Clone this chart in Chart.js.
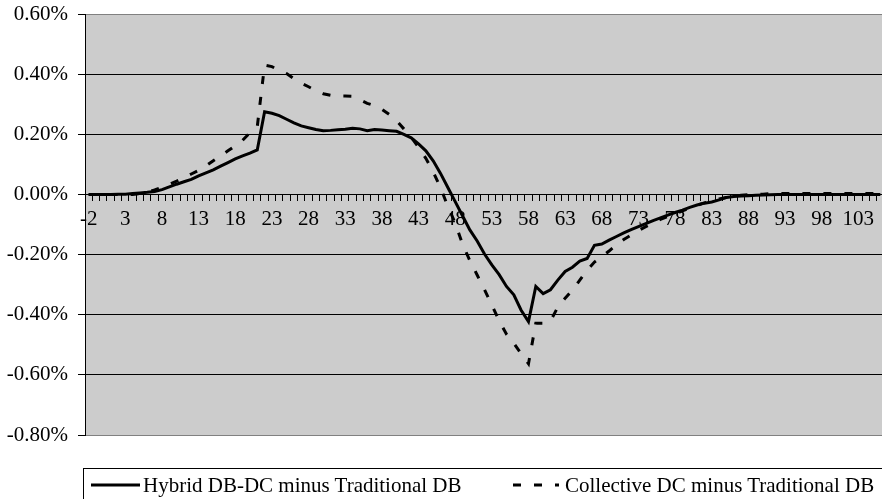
<!DOCTYPE html>
<html>
<head>
<meta charset="utf-8">
<script src="https://cdn.jsdelivr.net/npm/chart.js@4.4.0/dist/chart.umd.min.js"></script>
<style>
  html, body { margin: 0; padding: 0; background: #fff; overflow: hidden; }
  #wrap { position: relative; width: 900px; height: 499px; }
  #legend {
    position: absolute; left: 83px; top: 468px; width: 830px; height: 44px;
    border: 1px solid #000; font-family: 'Liberation Serif', 'Times New Roman', serif;
    font-size: 21px; line-height: 24px; color: #000;
  }
  .item { position: absolute; top: 4px; white-space: nowrap; }
  .item svg { position: absolute; top: 0; }
</style>
</head>
<body>
<div id="wrap">
  <canvas id="chart" width="900" height="499"></canvas>
  <div id="legend"></div>
</div>
<script>
// category axis: -2 .. 106
const categories = [
  -2, -1, 0, 1, 2, 3, 4, 5, 6, 7, 8, 9, 10, 11, 12, 13, 14, 15, 16, 17,
  18, 19, 20, 21, 22, 23, 24, 25, 26, 27, 28, 29, 30, 31, 32, 33, 34, 35, 36, 37,
  38, 39, 40, 41, 42, 43, 44, 45, 46, 47, 48, 49, 50, 51, 52, 53, 54, 55, 56, 57,
  58, 59, 60, 61, 62, 63, 64, 65, 66, 67, 68, 69, 70, 71, 72, 73, 74, 75, 76, 77,
  78, 79, 80, 81, 82, 83, 84, 85, 86, 87, 88, 89, 90, 91, 92, 93, 94, 95, 96, 97,
  98, 99, 100, 101, 102, 103, 104, 105, 106
];

// values in percent
const hybridMinusDB = [
  0, 0, 0, 0, 0.001, 0.001, 0.003, 0.005, 0.007, 0.010,
  0.016, 0.025, 0.034, 0.042, 0.050, 0.062, 0.072, 0.082, 0.094, 0.106,
  0.118, 0.128, 0.137, 0.148, 0.275, 0.270, 0.262, 0.250, 0.238, 0.228,
  0.222, 0.216, 0.212, 0.213, 0.215, 0.217, 0.220, 0.218, 0.212, 0.216,
  0.214, 0.212, 0.210, 0.200, 0.188, 0.168, 0.145, 0.112, 0.070, 0.023,
  -0.024, -0.071, -0.118, -0.155, -0.198, -0.234, -0.267, -0.306, -0.334, -0.385,
  -0.423, -0.306, -0.330, -0.317, -0.285, -0.256, -0.242, -0.222, -0.213, -0.169,
  -0.165, -0.152, -0.140, -0.128, -0.117, -0.107, -0.097, -0.087, -0.078, -0.069,
  -0.060, -0.052, -0.043, -0.035, -0.029, -0.025, -0.018, -0.010, -0.007, -0.005,
  -0.004, -0.003, -0.002, -0.001, 0, 0, 0, 0, 0, 0,
  0, 0, 0, 0, 0, 0, 0, 0, 0
];

const collectiveMinusDB = [
  0, 0, 0, 0, 0, 0, 0, 0.003, 0.008, 0.015,
  0.024, 0.034, 0.044, 0.055, 0.068, 0.080, 0.095, 0.112, 0.128, 0.145,
  0.162, 0.180, 0.205, 0.225, 0.430, 0.425, 0.413, 0.402, 0.385, 0.370,
  0.358, 0.345, 0.335, 0.330, 0.327, 0.327, 0.326, 0.315, 0.303, 0.295,
  0.283, 0.266, 0.245, 0.218, 0.190, 0.157, 0.120, 0.075, 0.023, -0.040,
  -0.095, -0.165, -0.220, -0.268, -0.317, -0.368, -0.420, -0.465, -0.495, -0.530,
  -0.563, -0.428, -0.428, -0.421, -0.375, -0.345, -0.318, -0.285, -0.252, -0.225,
  -0.207, -0.188, -0.168, -0.150, -0.135, -0.120, -0.107, -0.094, -0.083, -0.073,
  -0.064, -0.055, -0.045, -0.036, -0.028, -0.022, -0.015, -0.010, -0.006, -0.003,
  -0.001, 0, 0.001, 0.003, 0.003, 0.003, 0.003, 0.003, 0.003, 0.003,
  0.003, 0.003, 0.003, 0.003, 0.003, 0.003, 0.003, 0.003, 0.003
];

const yTicks = [0.6, 0.4, 0.2, 0, -0.2, -0.4, -0.6, -0.8];
const seriesNames = ['Hybrid DB-DC minus Traditional DB', 'Collective DC minus Traditional DB'];

const SERIF = "'Liberation Serif', 'Times New Roman', serif";
Chart.defaults.font.family = SERIF;
Chart.defaults.font.size = 21;
Chart.defaults.color = '#000';

const plotBg = {
  id: 'plotBg',
  beforeDraw(chart) {
    const a = chart.chartArea;
    const ctx = chart.ctx;
    ctx.save();
    ctx.fillStyle = '#cccccc';
    ctx.fillRect(a.left, a.top, a.right - a.left, a.bottom - a.top);
    ctx.restore();
  }
};

new Chart(document.getElementById('chart'), {
  type: 'line',
  data: {
    labels: categories,
    datasets: [
      {
        label: seriesNames[0],
        data: hybridMinusDB,
        borderColor: '#000',
        borderWidth: 3,
        pointRadius: 0,
        tension: 0,
        fill: false
      },
      {
        label: seriesNames[1],
        data: collectiveMinusDB,
        borderColor: '#000',
        borderWidth: 3,
        borderDash: [8, 13],
        pointRadius: 0,
        tension: 0,
        fill: false
      }
    ]
  },
  options: {
    responsive: false,
    animation: false,
    layout: { padding: { left: 0, top: 14, right: 16, bottom: 64 } },
    plugins: {
      legend: { display: false },
      tooltip: { enabled: false }
    },
    scales: {
      x: {
        type: 'category',
        position: { y: 0 },
        offset: true,
        grid: {
          offset: true,
          drawOnChartArea: false,
          drawTicks: true,
          tickLength: 6,
          tickColor: '#000'
        },
        border: { display: true, color: '#000', width: 1 },
        ticks: {
          autoSkip: false,
          maxRotation: 0,
          padding: 6,
          callback: function(value, index) {
            return index % 5 === 0 ? String(categories[index]) : '';
          }
        },
        afterFit(scale) { scale.paddingLeft = 0; scale.paddingRight = 0; }
      },
      y: {
        min: -0.8,
        max: 0.6,
        afterBuildTicks(scale) {
          scale.ticks = yTicks.slice().reverse().map(v => ({ value: v }));
        },
        grid: {
          color: ctx => (ctx.tick && (ctx.tick.value === 0.6 || ctx.tick.value === -0.8)) ? '#808080' : '#000',
          lineWidth: 1,
          drawTicks: true,
          tickLength: 7,
          tickColor: '#000'
        },
        border: { display: true, color: '#000', width: 1 },
        ticks: {
          padding: 10,
          callback: v => v.toFixed(2) + '%'
        },
        afterFit(scale) { scale.width = 85; scale.paddingTop = 0; scale.paddingBottom = 0; }
      }
    }
  },
  plugins: [plotBg]
});

// legend in the Excel style: bordered box under the plot
const legend = document.getElementById('legend');
const items = [
  { name: seriesNames[0], sampleLeft: 7, sampleW: 49, textLeft: 59, dash: '' },
  { name: seriesNames[1], sampleLeft: 429, sampleW: 46, textLeft: 481, dash: '8 13' }
];
items.forEach(it => {
  const el = document.createElement('div');
  el.className = 'item';
  el.style.left = it.sampleLeft + 'px';
  el.style.width = '400px';
  el.innerHTML =
    '<svg width="' + it.sampleW + '" height="24"><line x1="0" y1="12" x2="' + it.sampleW +
    '" y2="12" stroke="#000" stroke-width="3"' + (it.dash ? ' stroke-dasharray="' + it.dash + '"' : '') +
    '/></svg><span style="position:absolute;left:' + (it.textLeft - it.sampleLeft) + 'px;top:0">' +
    it.name + '</span>';
  legend.appendChild(el);
});
</script>
</body>
</html>
